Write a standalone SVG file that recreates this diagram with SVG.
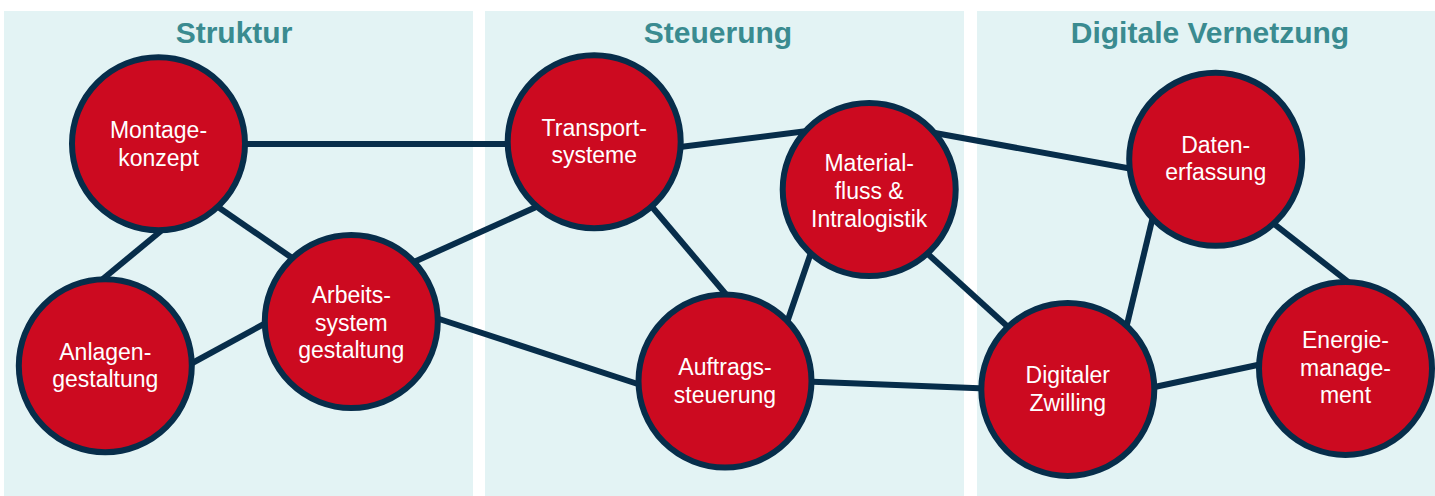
<svg xmlns="http://www.w3.org/2000/svg" width="1435" height="496" viewBox="0 0 1435 496">
<style>
.panel{fill:#e3f3f4}
.title{font-family:"Liberation Sans",Arial,sans-serif;font-weight:bold;font-size:30px;fill:#3a8b90;text-anchor:middle}
.edge{stroke:#072d4a;stroke-width:6;stroke-linecap:butt;fill:none}
.node circle{fill:#cc0a20;stroke:#072d4a;stroke-width:6}
.node text{font-family:"Liberation Sans",Arial,sans-serif;font-size:23px;fill:#ffffff;text-anchor:middle}
</style>
<rect width="1435" height="496" fill="#ffffff"/>
<g id="panels">
<rect class="panel" x="4" y="11" width="469" height="485"/>
<rect class="panel" x="485" y="11" width="479" height="485"/>
<rect class="panel" x="977" y="11" width="458" height="485"/>
<text class="title" x="234" y="43">Struktur</text>
<text class="title" x="718" y="43">Steuerung</text>
<text class="title" x="1210" y="43">Digitale Vernetzung</text>
</g>
<g id="connectors">
<line class="edge" x1="200" y1="144" x2="560" y2="144"/>
<line class="edge" x1="173" y1="221" x2="98" y2="283"/>
<line class="edge" x1="205" y1="198" x2="298" y2="262"/>
<line class="edge" x1="185" y1="367" x2="275" y2="318"/>
<line class="edge" x1="405" y1="266" x2="545" y2="203"/>
<line class="edge" x1="430" y1="316" x2="650" y2="388"/>
<line class="edge" x1="672" y1="148" x2="815" y2="130"/>
<line class="edge" x1="642" y1="195" x2="735" y2="305"/>
<line class="edge" x1="816" y1="238" x2="782" y2="337"/>
<line class="edge" x1="924" y1="131" x2="1138" y2="170"/>
<line class="edge" x1="918" y1="245" x2="1018" y2="336"/>
<line class="edge" x1="800" y1="381.3" x2="992" y2="388.8"/>
<line class="edge" x1="1155" y1="208" x2="1124" y2="337"/>
<line class="edge" x1="1264" y1="216" x2="1356" y2="288"/>
<line class="edge" x1="1144" y1="389.3" x2="1268" y2="362.7"/>
</g>
<g id="n-montage" class="node"><circle cx="158.5" cy="143.7" r="86.5"/><text x="158.5"><tspan x="158.5" y="138.3">Montage-</tspan><tspan x="158.5" y="165.7">konzept</tspan></text></g>
<g id="n-anlagen" class="node"><circle cx="105.3" cy="365.7" r="86.5"/><text><tspan x="105.3" y="360">Anlagen-</tspan><tspan x="105.3" y="387.4">gestaltung</tspan></text></g>
<g id="n-arbeits" class="node"><circle cx="351.3" cy="321.5" r="86.5"/><text><tspan x="351.3" y="303.3">Arbeits-</tspan><tspan x="351.3" y="330.8">system</tspan><tspan x="351.3" y="358.3">gestaltung</tspan></text></g>
<g id="n-transport" class="node"><circle cx="594.2" cy="141.7" r="86.5"/><text><tspan x="594.2" y="136">Transport-</tspan><tspan x="594.2" y="163.4">systeme</tspan></text></g>
<g id="n-material" class="node"><circle cx="869.2" cy="189.5" r="86.5"/><text><tspan x="869.2" y="170.8">Material-</tspan><tspan x="869.2" y="198.8">fluss &amp;</tspan><tspan x="869.2" y="226.7">Intralogistik</tspan></text></g>
<g id="n-auftrags" class="node"><circle cx="725" cy="381" r="86.5"/><text><tspan x="725" y="375">Auftrags-</tspan><tspan x="725" y="402.6">steuerung</tspan></text></g>
<g id="n-daten" class="node"><circle cx="1215.7" cy="159.3" r="86.5"/><text><tspan x="1215.7" y="152.7">Daten-</tspan><tspan x="1215.7" y="180">erfassung</tspan></text></g>
<g id="n-zwilling" class="node"><circle cx="1067.8" cy="389.4" r="86.5"/><text><tspan x="1067.8" y="383.3">Digitaler</tspan><tspan x="1067.8" y="411">Zwilling</tspan></text></g>
<g id="n-energie" class="node"><circle cx="1345.5" cy="368.4" r="86.5"/><text><tspan x="1345.5" y="348.3">Energie-</tspan><tspan x="1345.5" y="375.8">manage-</tspan><tspan x="1345.5" y="402.7">ment</tspan></text></g>
</svg>
